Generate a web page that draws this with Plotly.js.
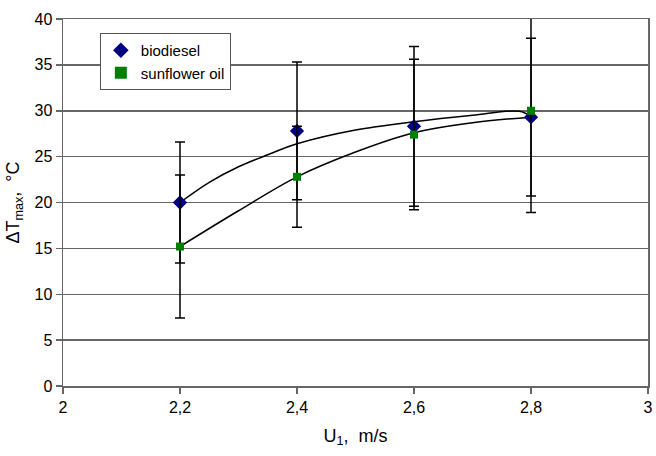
<!DOCTYPE html>
<html>
<head>
<meta charset="utf-8">
<script src="https://cdn.plot.ly/plotly-3.0.1.min.js"></script>
<style>html,body{margin:0;padding:0;background:#fff;}#chart{width:656px;height:456px;}</style>
</head>
<body>
<div id="chart"></div>
<script>
// Measured points
const speed = [2.2, 2.4, 2.6, 2.8];
const biodiesel = [20.0, 27.8, 28.3, 29.3];
const biodieselErr = [6.6, 7.5, 8.7, 8.6];
const sunflower = [15.2, 22.8, 27.4, 30.0];
const sunflowerErr = [7.8, 5.5, 8.2, 11.1];

// Smoothed curves
const curveUpperX = [2.2, 2.25, 2.3, 2.35, 2.4, 2.5, 2.6, 2.7, 2.78, 2.8];
const curveUpperY = [20.0, 22.2, 23.9, 25.2, 26.4, 27.9, 28.8, 29.5, 29.95, 29.4];
const curveLowerX = [2.2, 2.3, 2.4, 2.5, 2.6, 2.7, 2.8];
const curveLowerY = [15.2, 19.1, 22.8, 25.5, 27.6, 28.7, 29.3];

// Axis ticks
const xTickVals = [2, 2.2, 2.4, 2.6, 2.8, 3];
const xTickText = ['2', '2,2', '2,4', '2,6', '2,8', '3'];
const yTickVals = [0, 5, 10, 15, 20, 25, 30, 35, 40];

const font = {family: 'Liberation Sans, Arial, sans-serif', color: '#000'};

const traces = [
  {x: curveUpperX, y: curveUpperY, mode: 'lines', line: {color: '#000', width: 1.5, shape: 'spline'}, showlegend: false, hoverinfo: 'skip'},
  {x: curveLowerX, y: curveLowerY, mode: 'lines', line: {color: '#000', width: 1.5, shape: 'spline'}, showlegend: false, hoverinfo: 'skip'},
  {x: speed, y: biodiesel, name: 'biodiesel', mode: 'markers',
   marker: {symbol: 'diamond', color: '#000080', size: 11},
   error_y: {type: 'data', array: biodieselErr, visible: true, color: '#000', thickness: 1.5, width: 5}},
  {x: speed, y: sunflower, name: 'sunflower oil', mode: 'markers',
   marker: {symbol: 'square', color: '#008000', size: 8},
   error_y: {type: 'data', array: sunflowerErr, visible: true, color: '#000', thickness: 1.5, width: 5}}
];

const layout = {
  width: 656, height: 456,
  margin: {l: 63, r: 8, t: 19, b: 70},
  paper_bgcolor: '#fff', plot_bgcolor: '#fff',
  font: Object.assign({size: 16}, font),
  showlegend: true,
  legend: {x: 0.063, y: 0.962, xanchor: 'left', yanchor: 'top', bgcolor: '#fff',
           bordercolor: '#555', borderwidth: 1, font: Object.assign({size: 15}, font),
           tracegroupgap: 0, itemsizing: 'constant'},
  xaxis: {range: [2, 3], tickvals: xTickVals, ticktext: xTickText, showgrid: false,
          zeroline: false, showline: true, linecolor: '#666', linewidth: 1.5, mirror: true,
          ticks: 'outside', ticklen: 6, tickcolor: '#666', tickwidth: 1.5,
          tickfont: Object.assign({size: 16}, font),
          title: {text: 'U<sub>1</sub>,  m/s', font: Object.assign({size: 18}, font), standoff: 14}},
  yaxis: {range: [0, 40], tickvals: yTickVals, showgrid: true, gridcolor: '#666', gridwidth: 1.5,
          zeroline: false, showline: true, linecolor: '#666', linewidth: 1.5, mirror: true,
          ticks: 'outside', ticklen: 6, tickcolor: '#666', tickwidth: 1.5,
          tickfont: Object.assign({size: 16}, font),
          title: {text: '\u0394T<sub>max</sub>,  \u00b0C', font: Object.assign({size: 18}, font), standoff: 10}}
};

Plotly.newPlot('chart', traces, layout, {displayModeBar: false, staticPlot: true});
</script>
</body>
</html>
